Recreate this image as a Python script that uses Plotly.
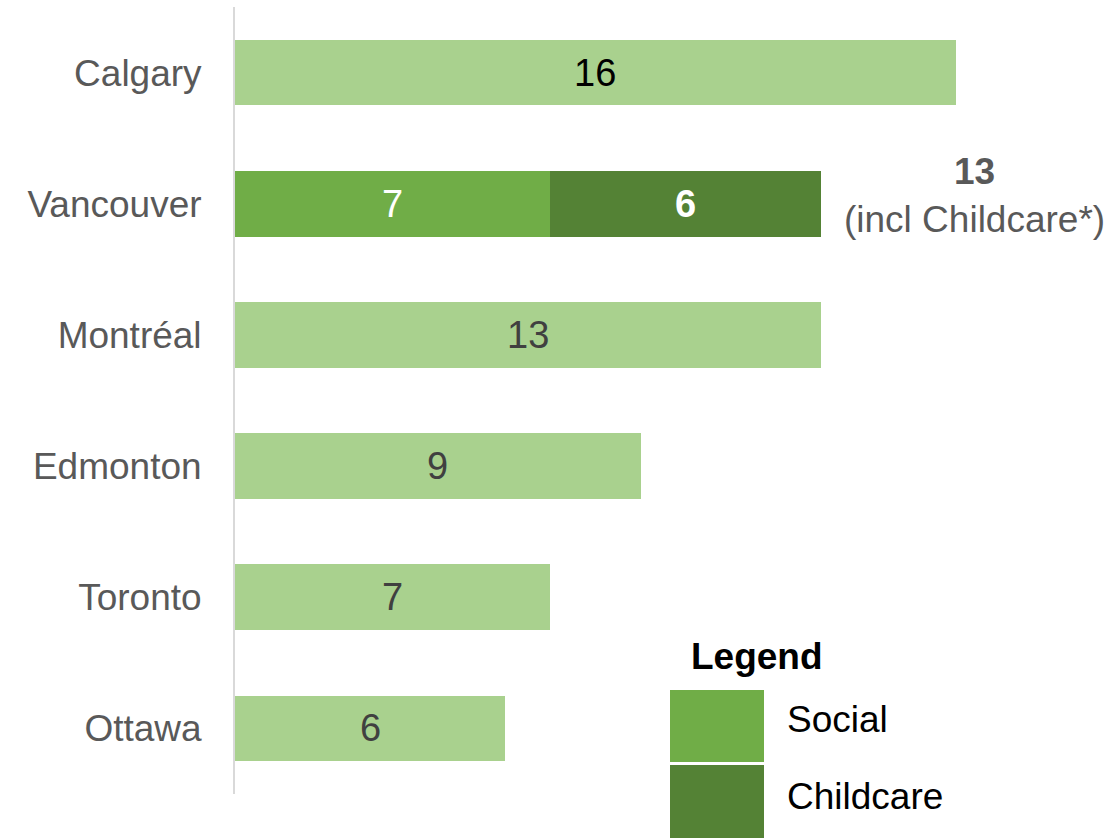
import plotly.graph_objects as go

cities = ["Calgary", "Vancouver", "Montréal", "Edmonton", "Toronto", "Ottawa"]
total_values = [16, None, 13, 9, 7, 6]
total_text_colors = ["#000000", "#404040", "#404040", "#404040", "#404040", "#404040"]
social_values = [None, 7, None, None, None, None]
childcare_values = [None, 6, None, None, None, None]
vancouver_total = 13

FONT = "Liberation Sans, Arial, sans-serif"
FS = 38

fig = go.Figure()
fig.add_trace(go.Bar(
    y=cities, x=total_values, orientation="h",
    marker=dict(color="#A9D18E", line=dict(width=0)),
    width=0.5, showlegend=False, hoverinfo="skip",
))
fig.add_trace(go.Bar(
    y=cities, x=social_values, orientation="h",
    marker=dict(color="#70AD47", line=dict(width=0)),
    width=0.5, showlegend=False, hoverinfo="skip",
))
fig.add_trace(go.Bar(
    y=cities, x=childcare_values, orientation="h",
    marker=dict(color="#548235", line=dict(width=0)),
    width=0.5, showlegend=False, hoverinfo="skip",
))

# Bar value labels, positioned from the data through the axes
for city, v, c in zip(cities, total_values, total_text_colors):
    if v is not None:
        fig.add_annotation(x=v / 2, y=city, xref="x", yref="y", text=str(v), showarrow=False,
                           font=dict(family=FONT, size=FS, color=c), xanchor="center", yanchor="middle")
for city, s, cc in zip(cities, social_values, childcare_values):
    if s is not None:
        fig.add_annotation(x=s / 2, y=city, xref="x", yref="y", text=str(s), showarrow=False,
                           font=dict(family=FONT, size=FS, color="#FFFFFF"), xanchor="center", yanchor="middle")
    if cc is not None:
        base = s or 0
        fig.add_annotation(x=base + cc / 2, y=city, xref="x", yref="y", text="<b>%d</b>" % cc, showarrow=False,
                           font=dict(family=FONT, size=FS, color="#FFFFFF"), xanchor="center", yanchor="middle")

fig.add_annotation(
    x=16.42, y="Vancouver", xref="x", yref="y",
    text="<b>%d</b><br>(incl Childcare*)" % vancouver_total,
    showarrow=False, font=dict(family=FONT, size=FS - 1, color="#595959"),
    align="center", xanchor="center", yanchor="middle", yshift=8,
)

fig.update_layout(
    barmode="stack",
    width=1115, height=838,
    margin=dict(l=235, r=0, t=7, b=44),
    paper_bgcolor="white", plot_bgcolor="white",
    font=dict(family=FONT, size=FS, color="#595959"),
    bargap=0.5,
    xaxis=dict(range=[0, 880 / 45.06], visible=False, fixedrange=True),
    yaxis=dict(categoryorder="array", categoryarray=cities, autorange="reversed",
               showline=True, linecolor="#D9D9D9", linewidth=2, ticks="",
               showgrid=False, tickfont=dict(family=FONT, size=FS - 1, color="#595959"),
               ticklabelstandoff=24),
)

# Custom legend (paper coordinates)
W, H = 1115, 838
l, r, t, b = 235, 0, 7, 44
pw, ph = W - l - r, H - t - b

def px(xp):
    return (xp - l) / pw

def py(yp):
    return (H - b - yp) / ph

fig.add_annotation(x=px(689), y=py(656), xref="paper", yref="paper", text="<b>Legend</b>",
                   showarrow=False, font=dict(family=FONT, size=FS - 1, color="#000000"),
                   xanchor="left", yanchor="middle")
fig.add_shape(type="rect", xref="paper", yref="paper", x0=px(670), x1=px(764), y0=py(762), y1=py(690),
              fillcolor="#70AD47", line=dict(width=0))
fig.add_shape(type="rect", xref="paper", yref="paper", x0=px(670), x1=px(764), y0=py(838), y1=py(765),
              fillcolor="#548235", line=dict(width=0))
fig.add_annotation(x=px(785), y=py(719), xref="paper", yref="paper", text="Social",
                   showarrow=False, font=dict(family=FONT, size=FS - 1, color="#000000"),
                   xanchor="left", yanchor="middle")
fig.add_annotation(x=px(785), y=py(797), xref="paper", yref="paper", text="Childcare",
                   showarrow=False, font=dict(family=FONT, size=FS - 1, color="#000000"),
                   xanchor="left", yanchor="middle")

fig.write_html("out.html")
